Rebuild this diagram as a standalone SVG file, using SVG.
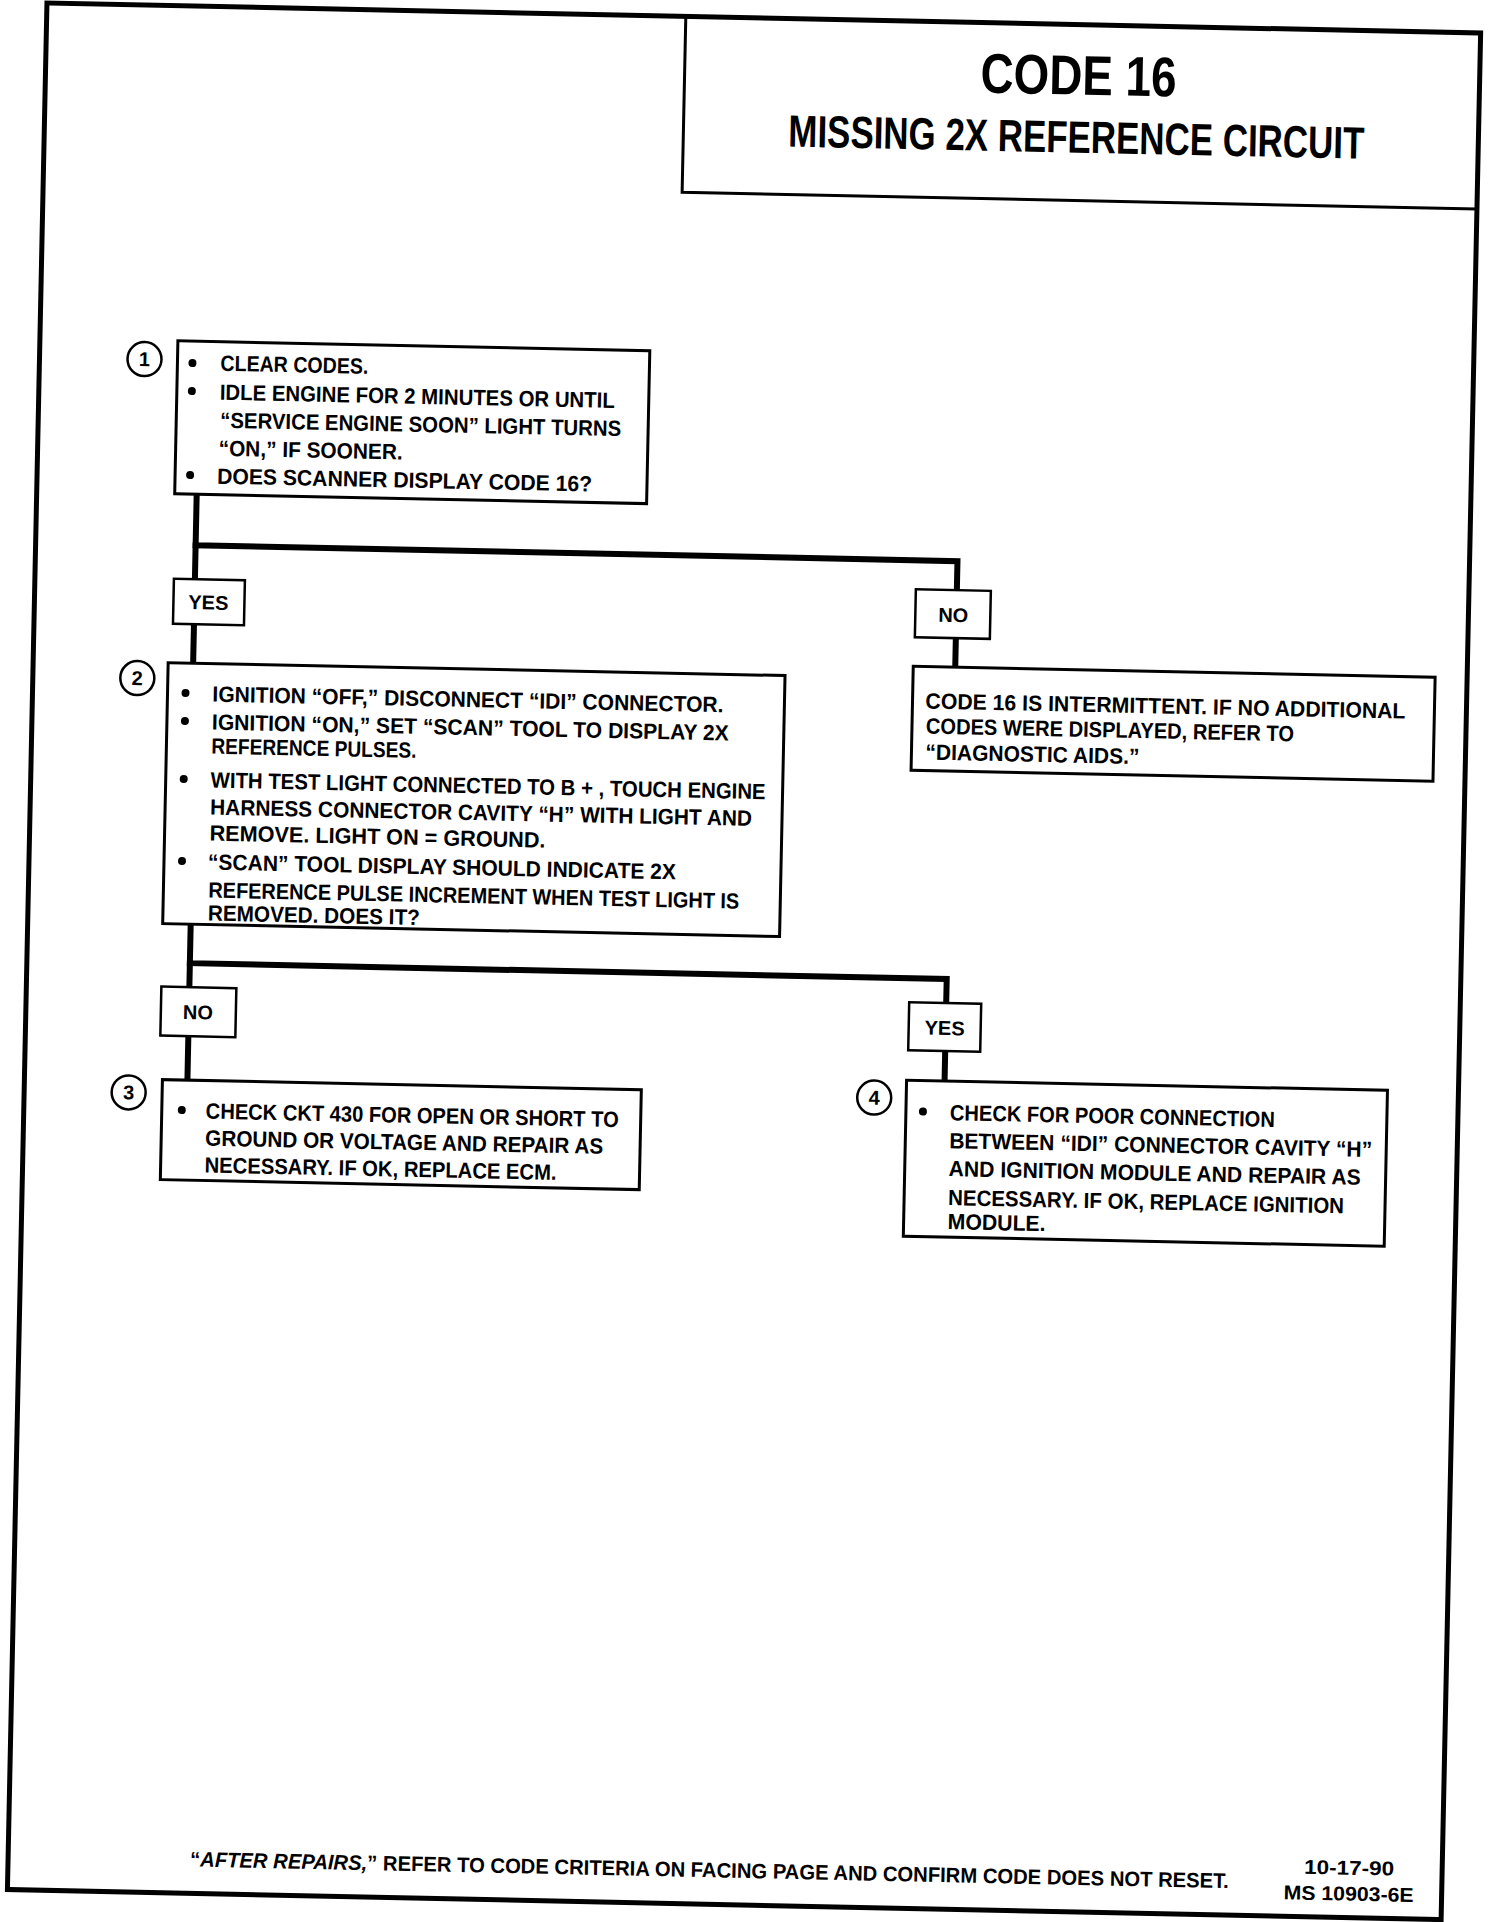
<svg xmlns="http://www.w3.org/2000/svg" width="1504" height="1922" viewBox="0 0 1504 1922">
<style>
.frame{fill:none;stroke:#000;stroke-width:5}
.tline{fill:none;stroke:#000;stroke-width:3}
.box{fill:#fff;stroke:#000;stroke-width:3}
.lbl{fill:#fff;stroke:#000;stroke-width:2.5}
.conn{fill:none;stroke:#000;stroke-width:6;stroke-linecap:square}
.t{font-family:"Liberation Sans",Arial,sans-serif;font-weight:bold;font-size:22px;fill:#000}
.c{text-anchor:middle}
.n{font-size:20px}
.num{fill:#fff;stroke:#000;stroke-width:2.5}
.bul{fill:#000}
</style>
<rect width="1504" height="1922" fill="#fff"/>
<g transform="rotate(1.2)">
<g id="frame">
<rect class="frame" x="47" y="2" width="1434" height="1887"/>
<path class="tline" d="M686 2 V178 H1481"/>
</g>
<g id="title">
<text class="t c" x="1080" y="72" style="font-size:56px" textLength="196" lengthAdjust="spacingAndGlyphs">CODE 16</text>
<text class="t c" x="1079" y="130" style="font-size:45px" textLength="576" lengthAdjust="spacingAndGlyphs">MISSING 2X REFERENCE CIRCUIT</text>
</g>
<g id="connectors">
<path class="conn" d="M207 490 V541 H969 V570"/>
<path class="conn" d="M207 541 V575"/>
<path class="conn" d="M207 620 V659"/>
<path class="conn" d="M969 618 V647"/>
<path class="conn" d="M210 920 V959 H967 V983"/>
<path class="conn" d="M210 959 V983"/>
<path class="conn" d="M210 1032 V1076"/>
<path class="conn" d="M967 1031 V1061"/>
</g>
<g id="lbl-yes1"><rect class="lbl" x="186" y="575" width="71" height="45"/><text class="t c n" x="221" y="605">YES</text></g>
<g id="lbl-no1"><rect class="lbl" x="928" y="570" width="75" height="48"/><text class="t c n" x="966" y="602">NO</text></g>
<g id="lbl-no2"><rect class="lbl" x="182" y="983" width="75" height="49"/><text class="t c n" x="219" y="1015">NO</text></g>
<g id="lbl-yes2"><rect class="lbl" x="930" y="983" width="72" height="48"/><text class="t c n" x="966" y="1015">YES</text></g>
<g id="step1">
<circle class="num" cx="152" cy="356" r="17"/><text class="t c n" x="152" y="363">1</text>
<rect class="box" x="185" y="337" width="472" height="153"/>
<circle class="bul" cx="200" cy="359" r="4"/>
<circle class="bul" cx="200" cy="387" r="4"/>
<circle class="bul" cx="200" cy="471" r="4"/>
<text class="t" x="228" y="366" textLength="148" lengthAdjust="spacingAndGlyphs">CLEAR CODES.</text>
<text class="t" x="228" y="395" textLength="395" lengthAdjust="spacingAndGlyphs">IDLE ENGINE FOR 2 MINUTES OR UNTIL</text>
<text class="t" x="229" y="423" textLength="401" lengthAdjust="spacingAndGlyphs">“SERVICE ENGINE SOON” LIGHT TURNS</text>
<text class="t" x="228" y="451" textLength="184" lengthAdjust="spacingAndGlyphs">“ON,” IF SOONER.</text>
<text class="t" x="227" y="479" textLength="375" lengthAdjust="spacingAndGlyphs">DOES SCANNER DISPLAY CODE 16?</text>
</g>
<g id="step2">
<circle class="num" cx="151.5" cy="675" r="17"/><text class="t c n" x="151.5" y="682">2</text>
<rect class="box" x="182" y="659" width="617" height="261"/>
<circle class="bul" cx="200" cy="689" r="4"/>
<circle class="bul" cx="200" cy="717" r="4"/>
<circle class="bul" cx="200" cy="775" r="4"/>
<circle class="bul" cx="200" cy="857" r="4"/>
<text class="t" x="227" y="697" textLength="511" lengthAdjust="spacingAndGlyphs">IGNITION “OFF,” DISCONNECT “IDI” CONNECTOR.</text>
<text class="t" x="227" y="725" textLength="517" lengthAdjust="spacingAndGlyphs">IGNITION “ON,” SET “SCAN” TOOL TO DISPLAY 2X</text>
<text class="t" x="227" y="749" textLength="205" lengthAdjust="spacingAndGlyphs">REFERENCE PULSES.</text>
<text class="t" x="227" y="783" textLength="555" lengthAdjust="spacingAndGlyphs">WITH TEST LIGHT CONNECTED TO B + , TOUCH ENGINE</text>
<text class="t" x="227" y="810" textLength="542" lengthAdjust="spacingAndGlyphs">HARNESS CONNECTOR CAVITY “H” WITH LIGHT AND</text>
<text class="t" x="227" y="836" textLength="336" lengthAdjust="spacingAndGlyphs">REMOVE.  LIGHT ON  =  GROUND.</text>
<text class="t" x="226" y="865" textLength="468" lengthAdjust="spacingAndGlyphs">“SCAN” TOOL DISPLAY SHOULD INDICATE 2X</text>
<text class="t" x="227" y="893" textLength="531" lengthAdjust="spacingAndGlyphs">REFERENCE PULSE INCREMENT WHEN TEST LIGHT IS</text>
<text class="t" x="227" y="916" textLength="212" lengthAdjust="spacingAndGlyphs">REMOVED.  DOES IT?</text>
</g>
<g id="intermittent">
<rect class="box" x="927" y="647" width="522" height="104"/>
<text class="t" x="940" y="689" textLength="480" lengthAdjust="spacingAndGlyphs">CODE 16 IS INTERMITTENT.  IF NO ADDITIONAL</text>
<text class="t" x="941" y="714" textLength="368" lengthAdjust="spacingAndGlyphs">CODES WERE DISPLAYED, REFER TO</text>
<text class="t" x="941" y="740" textLength="214" lengthAdjust="spacingAndGlyphs">“DIAGNOSTIC AIDS.”</text>
</g>
<g id="step3">
<circle class="num" cx="151.5" cy="1089.5" r="17"/><text class="t c n" x="151.5" y="1096.5">3</text>
<rect class="box" x="185" y="1076" width="479" height="100"/>
<circle class="bul" cx="205" cy="1106" r="4"/>
<text class="t" x="229" y="1114" textLength="413" lengthAdjust="spacingAndGlyphs">CHECK CKT 430 FOR OPEN OR SHORT TO</text>
<text class="t" x="229" y="1141" textLength="398" lengthAdjust="spacingAndGlyphs">GROUND OR VOLTAGE AND REPAIR AS</text>
<text class="t" x="229" y="1168" textLength="352" lengthAdjust="spacingAndGlyphs">NECESSARY.  IF OK, REPLACE ECM.</text>
</g>
<g id="step4">
<circle class="num" cx="897" cy="1079" r="17"/><text class="t c n" x="897" y="1086">4</text>
<rect class="box" x="929" y="1061" width="481" height="156"/>
<circle class="bul" cx="946" cy="1092" r="4"/>
<text class="t" x="973" y="1100" textLength="325" lengthAdjust="spacingAndGlyphs">CHECK FOR POOR CONNECTION</text>
<text class="t" x="973" y="1128" textLength="423" lengthAdjust="spacingAndGlyphs">BETWEEN “IDI” CONNECTOR CAVITY “H”</text>
<text class="t" x="973" y="1156" textLength="412" lengthAdjust="spacingAndGlyphs">AND IGNITION MODULE AND REPAIR AS</text>
<text class="t" x="973" y="1185" textLength="396" lengthAdjust="spacingAndGlyphs">NECESSARY.  IF OK, REPLACE IGNITION</text>
<text class="t" x="973" y="1209" textLength="98" lengthAdjust="spacingAndGlyphs">MODULE.</text>
</g>
<g id="footer">
<text class="t" x="229" y="1862" style="font-size:21px" textLength="1039" lengthAdjust="spacingAndGlyphs">“<tspan font-style="italic">AFTER REPAIRS,</tspan>” REFER TO CODE CRITERIA ON FACING PAGE AND CONFIRM CODE DOES NOT RESET.</text>
<text class="t" x="1343" y="1846" style="font-size:20px" textLength="90" lengthAdjust="spacingAndGlyphs">10-17-90</text>
<text class="t" x="1323" y="1872" style="font-size:20px" textLength="130" lengthAdjust="spacingAndGlyphs">MS 10903-6E</text>
</g>
</g>
</svg>
